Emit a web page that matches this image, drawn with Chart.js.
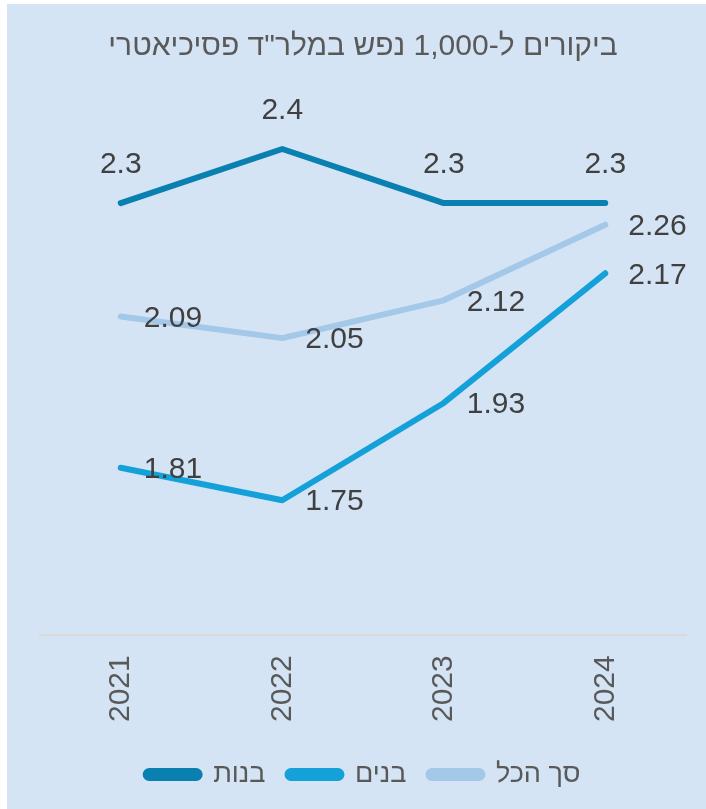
<!DOCTYPE html>
<html>
<head>
<meta charset="utf-8">
<script src="https://cdn.jsdelivr.net/npm/chart.js@4.4.1/dist/chart.umd.min.js"></script>
<style>
  html, body { margin:0; padding:0; background:#fff; }
  #wrap { position:absolute; left:7px; top:4px; width:699px; height:805px; background:#d4e4f5; }
</style>
</head>
<body>
<div id="wrap"><canvas id="chart"></canvas></div>
<script>
// ── DATA ──
const years = ['2021', '2022', '2023', '2024'];
const girls = [2.3, 2.4, 2.3, 2.3];      // בנות
const boys  = [1.81, 1.75, 1.93, 2.17];  // בנים
const total = [2.09, 2.05, 2.12, 2.26];  // סך הכל
const title = 'ביקורים ל-1,000 נפש במלר"ד פסיכיאטרי';

const FONT = "'Liberation Sans', Arial, sans-serif";

// ── VALUE LABELS ──
const valueLabels = {
  id: 'valueLabels',
  afterDatasetsDraw(chart) {
    const ctx = chart.ctx;
    ctx.save();
    ctx.font = `30px ${FONT}`;
    ctx.fillStyle = '#404040';
    ctx.textBaseline = 'middle';
    chart.data.datasets.forEach((ds, i) => {
      const meta = chart.getDatasetMeta(i);
      meta.data.forEach((pt, j) => {
        const txt = String(ds.data[j]);
        if (ds.labelPos === 'top') {
          ctx.textAlign = 'center';
          ctx.fillText(txt, pt.x, pt.y - 38);
        } else {
          ctx.textAlign = 'left';
          ctx.fillText(txt, pt.x + 23, pt.y + 2);
        }
      });
    });
    ctx.restore();
  }
};

const ctx = document.getElementById('chart').getContext('2d');
new Chart(ctx, {
  type: 'line',
  data: {
    labels: years,
    datasets: [
      { label:'בנות',   data:girls, borderColor:'#0a80b1', backgroundColor:'#0a80b1', labelPos:'top' },
      { label:'בנים',   data:boys,  borderColor:'#14a1d9', backgroundColor:'#14a1d9', labelPos:'right' },
      { label:'סך הכל', data:total, borderColor:'#a3c8e8', backgroundColor:'#a3c8e8', labelPos:'right' },
    ]
  },
  options: {
    responsive:true, maintainAspectRatio:false, animation:false,
    elements:{
      line:{ borderWidth:6, tension:0, borderCapStyle:'round', borderJoinStyle:'round' },
      point:{ radius:0, hoverRadius:0 }
    },
    layout:{ padding:{ left:33, right:20, top:0, bottom:11 } },
    scales:{
      x:{
        offset:true,
        grid:{ display:false, drawTicks:false },
        border:{ display:true, color:'#d9d9d9', width:2 },
        ticks:{ color:'#595959', font:{ size:30, family:FONT }, minRotation:90, maxRotation:90, padding:20 },
        afterFit(scale) { scale.height -= 3; }
      },
      y:{
        display:false, min:1.5, max:2.5
      }
    },
    plugins:{
      title:{
        display:true, text:title, color:'#595959',
        font:{ size:30, family:FONT, weight:'normal' },
        padding:{ top:25, bottom:30 }
      },
      legend:{
        position:'bottom',
        labels:{
          color:'#595959', font:{ size:27, family:FONT },
          boxWidth:54, boxHeight:7, useBorderRadius:true, borderRadius:3.5, padding:22
        }
      },
      tooltip:{ enabled:false }
    }
  },
  plugins:[valueLabels]
});
</script>
</body>
</html>
